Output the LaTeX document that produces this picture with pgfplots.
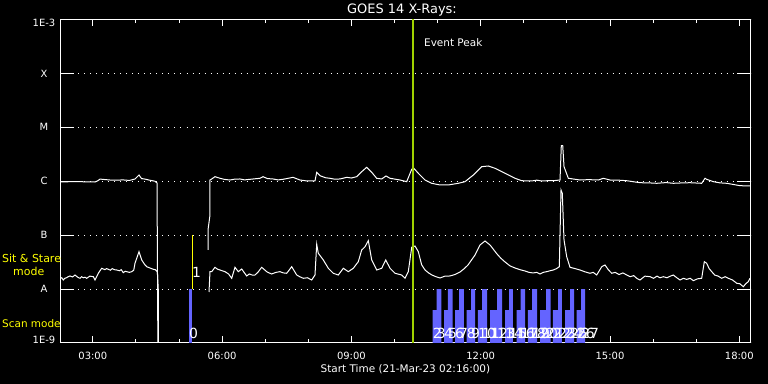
\documentclass[border=0pt]{standalone}
\usepackage{pgfplots}
\pgfplotsset{compat=1.18}
\usepackage{fontspec}
\setmainfont{DejaVu Sans}
\definecolor{scanblue}{RGB}{100,100,255}
\definecolor{peakgreen}{RGB}{160,210,0}
\definecolor{modeyellow}{RGB}{255,255,0}
\begin{document}
\begin{tikzpicture}
\fill[black] (-60.5bp,-41bp) rectangle (707.5bp,343bp);
\begin{axis}[
  at={(0,0)}, anchor=south west,
  scale only axis, width=690bp, height=323.5bp,
  xmin=2.2506, xmax=18.2596, ymin=-9, ymax=-3,
  axis line style={white, line width=1bp},
  tick align=inside,
  xtick={3,6,9,12,15,18},
  xticklabels={03:00,06:00,09:00,12:00,15:00,18:00},
  minor xtick={4,5,7,8,10,11,13,14,16,17},
  ytick={-9,-8,-7,-6,-5,-4,-3},
  yticklabels={,A,B,C,M,X,},
  xtick style={white, line width=1bp, /pgfplots/major tick length=7bp, /pgfplots/minor tick length=4bp},
  ytick style={white, line width=1bp, /pgfplots/major tick length=14bp},
  ymajorgrids=true,
  major grid style={white, line width=1bp, dash pattern=on 1bp off 5bp},
  /pgf/number format/assume math mode=true,
  xticklabel style={anchor=center, yshift=-12.5bp, text=white, font=\fontsize{10}{12}\selectfont},
  yticklabel style={anchor=center, xshift=-16.5bp, text=white, font=\fontsize{10}{12}\selectfont},
  xlabel={Start Time (21-Mar-23 02:16:00)},
  xlabel style={at={(axis description cs:0.5,0)}, anchor=base, yshift=-29bp, text=white, font=\fontsize{10.5}{12}\selectfont},
]
% scan mode bars
\addplot[fill=scanblue, draw=none] coordinates {(5.232,-9) (5.232,-8) (5.302,-8) (5.302,-9)};
\addplot[fill=scanblue, draw=none] coordinates {
(10.886,-9) (10.886,-8.388) (10.979,-8.388) (10.979,-8) (11.086,-8) (11.086,-9)
(11.149,-9) (11.149,-8.388) (11.241,-8.388) (11.241,-8) (11.350,-8) (11.350,-9)
(11.404,-9) (11.404,-8.388) (11.497,-8.388) (11.497,-8) (11.612,-8) (11.612,-9)
(11.675,-9) (11.675,-8.388) (11.775,-8.388) (11.775,-8) (11.868,-8) (11.868,-9)
(11.937,-9) (11.937,-8.388) (12.030,-8.388) (12.030,-8) (12.146,-8) (12.146,-9)
(12.216,-9) (12.216,-8.388) (12.378,-8.388) (12.378,-8) (12.494,-8) (12.494,-9)
(12.564,-9) (12.564,-8.388) (12.657,-8.388) (12.657,-8) (12.749,-8) (12.749,-9)
(12.835,-9) (12.835,-8.388) (12.928,-8.388) (12.928,-8) (13.028,-8) (13.028,-9)
(13.097,-9) (13.097,-8.388) (13.190,-8.388) (13.190,-8) (13.306,-8) (13.306,-9)
(13.376,-9) (13.376,-8.388) (13.515,-8.388) (13.515,-8) (13.624,-8) (13.624,-9)
(13.677,-9) (13.677,-8.388) (13.794,-8.388) (13.794,-8) (13.886,-8) (13.886,-9)
(13.956,-9) (13.956,-8.388) (14.072,-8.388) (14.072,-8) (14.165,-8) (14.165,-9)
(14.227,-9) (14.227,-8.388) (14.327,-8.388) (14.327,-8) (14.420,-8) (14.420,-9)
};
\addplot[modeyellow, line width=1bp] coordinates {(5.305,-8) (5.305,-7)};
% upper curve (1-8 A)
\addplot[white, line width=1bp] coordinates {
(2.239,-6.014) (2.40,-6.010) (2.60,-6.005) (2.80,-6.010) (3.051,-6.014) (3.12,-5.990) (3.167,-5.960) (3.30,-5.970) (3.40,-5.977) (3.55,-5.980) (3.70,-5.975) (3.85,-5.985) (3.979,-5.958) (4.072,-5.884) (4.13,-5.950) (4.211,-5.960) (4.30,-5.977) (4.443,-6.000) (4.490,-6.032) (4.513,-9.5)
};
\addplot[white, line width=1bp] coordinates {
(5.673,-7.275) (5.673,-6.904) (5.719,-6.626) (5.719,-5.977) (5.759,-5.958) (5.835,-5.915) (5.951,-5.945) (6.05,-5.965) (6.183,-5.977) (6.30,-5.960) (6.415,-5.958) (6.52,-5.975) (6.647,-5.964) (6.879,-5.945) (6.949,-5.915) (7.05,-5.950) (7.181,-5.958) (7.30,-5.975) (7.413,-5.964) (7.645,-5.927) (7.807,-5.977) (7.970,-5.995) (8.155,-5.995) (8.195,-5.834) (8.271,-5.897) (8.40,-5.935) (8.503,-5.945) (8.60,-5.960) (8.735,-5.958) (8.891,-5.927) (9.00,-5.940) (9.123,-5.915) (9.239,-5.823) (9.355,-5.741) (9.471,-5.834) (9.587,-5.945) (9.703,-5.958) (9.803,-5.902) (9.896,-5.945) (10.128,-5.977) (10.283,-6.008) (10.399,-5.778) (10.436,-5.749) (10.552,-5.852) (10.708,-5.977) (10.863,-6.038) (11.056,-6.069) (11.248,-6.069) (11.480,-6.038) (11.636,-6.008) (11.829,-5.884) (12.023,-5.730) (12.176,-5.717) (12.332,-5.760) (12.564,-5.852) (12.796,-5.945) (12.951,-5.990) (13.183,-5.995) (13.30,-5.980) (13.415,-5.995) (13.55,-5.990) (13.685,-5.990) (13.840,-5.977) (13.870,-5.340) (13.903,-5.340) (13.933,-5.730) (14.033,-5.945) (14.304,-5.977) (14.50,-5.970) (14.729,-5.977) (14.845,-5.945) (15.000,-5.977) (15.20,-5.980) (15.387,-5.990) (15.55,-6.010) (15.696,-6.027) (15.90,-6.030) (16.083,-6.038) (16.30,-6.025) (16.469,-6.038) (16.70,-6.030) (16.856,-6.027) (17.127,-6.038) (17.204,-5.945) (17.243,-5.964) (17.397,-6.008) (17.55,-6.030) (17.708,-6.038) (18.016,-6.082) (18.248,-6.088)
};
% lower curve (0.5-4 A)
\addplot[white, line width=1bp] coordinates {
(2.239,-7.800) (2.28,-7.790) (2.316,-7.831) (2.35,-7.800) (2.39,-7.790) (2.43,-7.770) (2.471,-7.757) (2.53,-7.775) (2.587,-7.739) (2.65,-7.780) (2.703,-7.800) (2.74,-7.770) (2.78,-7.790) (2.82,-7.780) (2.858,-7.800) (2.93,-7.760) (3.012,-7.770) (3.051,-7.831) (3.128,-7.707) (3.206,-7.614) (3.28,-7.640) (3.32,-7.620) (3.360,-7.633) (3.41,-7.650) (3.45,-7.620) (3.50,-7.640) (3.555,-7.646) (3.62,-7.660) (3.66,-7.640) (3.708,-7.696) (3.75,-7.670) (3.80,-7.680) (3.85,-7.690) (3.903,-7.677) (3.95,-7.650) (3.979,-7.521) (4.072,-7.306) (4.135,-7.460) (4.20,-7.540) (4.251,-7.585) (4.33,-7.610) (4.404,-7.633) (4.45,-7.640) (4.497,-7.677) (4.520,-8.017) (4.525,-9.5)
};
\addplot[white, line width=1bp] coordinates {
(5.696,-8.054) (5.719,-7.677) (5.759,-7.677) (5.835,-7.596) (5.89,-7.630) (5.951,-7.646) (6.00,-7.660) (6.067,-7.677) (6.15,-7.720) (6.223,-7.800) (6.299,-7.596) (6.376,-7.677) (6.455,-7.627) (6.51,-7.690) (6.571,-7.757) (6.63,-7.720) (6.70,-7.740) (6.763,-7.739) (6.84,-7.680) (6.919,-7.596) (7.035,-7.677) (7.09,-7.700) (7.151,-7.720) (7.25,-7.690) (7.343,-7.677) (7.42,-7.700) (7.499,-7.707) (7.615,-7.585) (7.731,-7.739) (7.80,-7.770) (7.884,-7.800) (7.98,-7.790) (8.079,-7.831) (8.155,-7.739) (8.195,-7.169) (8.232,-7.336) (8.348,-7.460) (8.464,-7.614) (8.580,-7.707) (8.696,-7.739) (8.812,-7.614) (8.928,-7.677) (9.044,-7.614) (9.160,-7.492) (9.239,-7.275) (9.316,-7.214) (9.392,-7.102) (9.471,-7.460) (9.587,-7.646) (9.703,-7.614) (9.796,-7.460) (9.896,-7.614) (10.012,-7.707) (10.167,-7.739) (10.244,-7.800) (10.320,-7.677) (10.399,-7.225) (10.476,-7.201) (10.552,-7.306) (10.63,-7.550) (10.708,-7.646) (10.79,-7.700) (10.870,-7.739) (10.96,-7.770) (11.056,-7.794) (11.17,-7.760) (11.288,-7.757) (11.40,-7.730) (11.520,-7.683) (11.62,-7.620) (11.705,-7.553) (11.868,-7.368) (11.984,-7.182) (12.100,-7.108) (12.216,-7.182) (12.378,-7.349) (12.47,-7.430) (12.564,-7.497) (12.68,-7.570) (12.796,-7.609) (12.91,-7.640) (13.028,-7.664) (13.12,-7.690) (13.214,-7.701) (13.30,-7.690) (13.376,-7.720) (13.45,-7.690) (13.531,-7.677) (13.61,-7.660) (13.685,-7.646) (13.76,-7.620) (13.824,-7.585) (13.863,-6.162) (13.893,-6.223) (13.933,-7.089) (13.995,-7.399) (14.072,-7.596) (14.19,-7.620) (14.304,-7.646) (14.42,-7.680) (14.536,-7.707) (14.61,-7.690) (14.691,-7.739) (14.808,-7.585) (14.884,-7.553) (14.96,-7.640) (15.040,-7.707) (15.12,-7.690) (15.21,-7.730) (15.30,-7.700) (15.387,-7.739) (15.47,-7.770) (15.55,-7.750) (15.62,-7.800) (15.696,-7.831) (15.81,-7.760) (15.928,-7.770) (16.01,-7.800) (16.09,-7.760) (16.16,-7.790) (16.237,-7.770) (16.32,-7.790) (16.40,-7.760) (16.469,-7.739) (16.55,-7.790) (16.624,-7.831) (16.70,-7.800) (16.78,-7.820) (16.86,-7.800) (16.933,-7.844) (17.03,-7.810) (17.127,-7.800) (17.188,-7.492) (17.243,-7.521) (17.30,-7.620) (17.360,-7.677) (17.43,-7.740) (17.51,-7.760) (17.592,-7.800) (17.67,-7.770) (17.745,-7.800) (17.84,-7.830) (17.940,-7.892) (18.01,-7.900) (18.093,-7.956) (18.15,-7.900) (18.209,-7.863) (18.248,-7.800)
};
% event peak
\addplot[peakgreen, line width=2.5bp] coordinates {(10.429,-9) (10.429,-3)};
\node[anchor=west, inner sep=0pt, text=white, font=\fontsize{10.5}{12}\selectfont] at (axis cs:10.684,-3.4266) {Event Peak};
% mode and image labels
\node[anchor=base west, inner sep=0pt, text=white, font=\fontsize{14}{16}\selectfont] at (axis cs:5.232,-8.925) {0};
\node[anchor=base west, inner sep=0pt, text=white, font=\fontsize{14}{16}\selectfont] at (axis cs:5.300,-7.781) {1};
\begin{scope}[every node/.style={anchor=base west, inner sep=0pt, text=white, font=\fontsize{14}{16}\selectfont}]
\node at (axis cs:10.886,-8.925) {2};
\node at (axis cs:10.979,-8.925) {3};
\node at (axis cs:11.149,-8.925) {4};
\node at (axis cs:11.241,-8.925) {5};
\node at (axis cs:11.404,-8.925) {6};
\node at (axis cs:11.497,-8.925) {7};
\node at (axis cs:11.675,-8.925) {8};
\node at (axis cs:11.775,-8.925) {9};
\node at (axis cs:11.937,-8.925) {10};
\node at (axis cs:12.030,-8.925) {11};
\node at (axis cs:12.216,-8.925) {12};
\node at (axis cs:12.378,-8.925) {13};
\node at (axis cs:12.564,-8.925) {14};
\node at (axis cs:12.657,-8.925) {15};
\node at (axis cs:12.835,-8.925) {16};
\node at (axis cs:12.928,-8.925) {17};
\node at (axis cs:13.097,-8.925) {18};
\node at (axis cs:13.190,-8.925) {19};
\node at (axis cs:13.376,-8.925) {20};
\node at (axis cs:13.515,-8.925) {21};
\node at (axis cs:13.677,-8.925) {22};
\node at (axis cs:13.794,-8.925) {23};
\node at (axis cs:13.956,-8.925) {24};
\node at (axis cs:14.072,-8.925) {25};
\node at (axis cs:14.227,-8.925) {26};
\node at (axis cs:14.327,-8.925) {27};
\end{scope}
\end{axis}
% outer texts
\node[anchor=base, text=white, font=\fontsize{13}{15}\selectfont] at (341.5bp,329.7bp) {GOES 14 X-Rays:};
\node[anchor=center, inner sep=0pt, text=white, font=\fontsize{10}{12}\selectfont] at (-16.5bp,3bp) {1E-9};
\node[anchor=center, inner sep=0pt, text=white, font=\fontsize{10}{12}\selectfont] at (-16.5bp,320bp) {1E-3};
\node[anchor=west, inner sep=0pt, text=modeyellow, font=\fontsize{11}{13}\selectfont] at (-58.5bp,85bp) {Sit \& Stare};
\node[anchor=west, inner sep=0pt, text=modeyellow, font=\fontsize{11}{13}\selectfont] at (-47.5bp,72bp) {mode};
\node[anchor=west, inner sep=0pt, text=modeyellow, font=\fontsize{10.5}{13}\selectfont] at (-58.5bp,19bp) {Scan mode};
\pgfresetboundingbox
\path (-60.5bp,-41bp) rectangle (707.5bp,343bp);
\end{tikzpicture}
\end{document}
